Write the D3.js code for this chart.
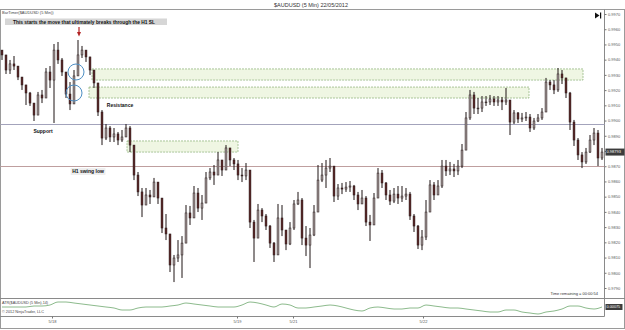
<!DOCTYPE html>
<html>
<head>
<meta charset="utf-8">
<script src="https://cdnjs.cloudflare.com/ajax/libs/d3/7.8.5/d3.min.js"></script>
<style>
    html, body { margin: 0; padding: 0; background: #fff; }
    svg { display: block; font-family: "Liberation Sans", Arial, sans-serif; }
</style>
</head>
<body>
<div id="chart"></div>
<script>
"use strict";

// 5 min bars (one candle per ~4px of the original)
var FirstOpen = 0.99463;

var Closes = [
    0.99431, 0.99332, 0.99372, 0.99358, 0.99286, 0.99234, 0.99181, 0.99115, 0.99036, 0.99168,
    0.99148, 0.99319, 0.99266, 0.99463, 0.99398, 0.99319, 0.99174, 0.99109, 0.99293, 0.99431,
    0.99463, 0.99418, 0.99332, 0.99247, 0.99056, 0.98885, 0.98951, 0.98892, 0.98912, 0.98872,
    0.98892, 0.98951, 0.98839, 0.98642, 0.98531, 0.98445, 0.98511, 0.98498, 0.98596, 0.98491,
    0.98294, 0.98255, 0.98051, 0.98097, 0.98117, 0.98195, 0.98393, 0.98360, 0.98524, 0.98425,
    0.98458, 0.98623, 0.98662, 0.98642, 0.98741, 0.98675, 0.98820, 0.98741, 0.98715, 0.98642,
    0.98636, 0.98675, 0.98333, 0.98228, 0.98412, 0.98373, 0.98307, 0.98195, 0.98117, 0.98360,
    0.98281, 0.98189, 0.98294, 0.98452, 0.98478, 0.98228, 0.98182, 0.98248, 0.98399, 0.98609,
    0.98642, 0.98688, 0.98701, 0.98504, 0.98557, 0.98550, 0.98563, 0.98570, 0.98511, 0.98452,
    0.98491, 0.98333, 0.98314, 0.98491, 0.98655, 0.98590, 0.98511, 0.98471, 0.98517, 0.98491,
    0.98504, 0.98517, 0.98373, 0.98307, 0.98182, 0.98235, 0.98399, 0.98577, 0.98511, 0.98570,
    0.98701, 0.98669, 0.98682, 0.98669, 0.98701, 0.98806, 0.99017, 0.99168, 0.99082, 0.99082,
    0.99122, 0.99122, 0.99142, 0.99122, 0.99135, 0.99122, 0.99135, 0.98990, 0.99050, 0.99010,
    0.99017, 0.99023, 0.98951, 0.98997, 0.99017, 0.99056, 0.99253, 0.99234, 0.99201, 0.99306,
    0.99280, 0.99181, 0.98990, 0.98872, 0.98774, 0.98728, 0.98793, 0.98872, 0.98918, 0.98754,
    0.98793
];

var Highs = [
    0.99463, 0.99385, 0.99398, 0.99424, 0.99332, 0.99280, 0.99214, 0.99188, 0.99109, 0.99188,
    0.99201, 0.99345, 0.99358, 0.99503, 0.99516, 0.99411, 0.99319, 0.99253, 0.99332, 0.99529,
    0.99490, 0.99450, 0.99398, 0.99332, 0.99168, 0.99069, 0.98977, 0.98964, 0.98951, 0.98925,
    0.98938, 0.98977, 0.98964, 0.98806, 0.98662, 0.98557, 0.98557, 0.98544, 0.98623, 0.98577,
    0.98478, 0.98386, 0.98215, 0.98117, 0.98215, 0.98241, 0.98445, 0.98439, 0.98570, 0.98557,
    0.98511, 0.98662, 0.98688, 0.98708, 0.98793, 0.98741, 0.98839, 0.98820, 0.98754, 0.98741,
    0.98688, 0.98721, 0.98662, 0.98347, 0.98452, 0.98425, 0.98386, 0.98314, 0.98202, 0.98452,
    0.98445, 0.98268, 0.98333, 0.98478, 0.98531, 0.98491, 0.98307, 0.98294, 0.98445, 0.98708,
    0.98721, 0.98741, 0.98754, 0.98688, 0.98583, 0.98590, 0.98596, 0.98603, 0.98577, 0.98531,
    0.98544, 0.98504, 0.98380, 0.98524, 0.98688, 0.98675, 0.98596, 0.98544, 0.98557, 0.98570,
    0.98570, 0.98557, 0.98531, 0.98386, 0.98314, 0.98281, 0.98478, 0.98609, 0.98596, 0.98609,
    0.98741, 0.98741, 0.98728, 0.98715, 0.98741, 0.98846, 0.99056, 0.99201, 0.99188, 0.99148,
    0.99161, 0.99161, 0.99168, 0.99161, 0.99161, 0.99155, 0.99214, 0.99135, 0.99069, 0.99056,
    0.99050, 0.99056, 0.99043, 0.99017, 0.99043, 0.99082, 0.99280, 0.99266, 0.99266, 0.99345,
    0.99332, 0.99280, 0.99188, 0.99004, 0.98885, 0.98793, 0.98820, 0.98905, 0.98951, 0.98938,
    0.98820
];

var Lows = [
    0.99398, 0.99306, 0.99306, 0.99332, 0.99266, 0.99201, 0.99102, 0.99096, 0.98997, 0.99082,
    0.99115, 0.99168, 0.99214, 0.98984, 0.99372, 0.99293, 0.99148, 0.99069, 0.99135, 0.99332,
    0.99411, 0.99385, 0.99299, 0.99214, 0.99030, 0.98839, 0.98872, 0.98859, 0.98859, 0.98839,
    0.98859, 0.98905, 0.98793, 0.98609, 0.98504, 0.98366, 0.98465, 0.98452, 0.98511, 0.98452,
    0.98261, 0.98215, 0.98005, 0.97939, 0.98071, 0.97966, 0.98215, 0.98314, 0.98379, 0.98399,
    0.98347, 0.98478, 0.98609, 0.98577, 0.98688, 0.98636, 0.98708, 0.98701, 0.98675, 0.98609,
    0.98596, 0.98609, 0.98294, 0.98071, 0.98241, 0.98333, 0.98281, 0.98163, 0.98071, 0.98149,
    0.98241, 0.98149, 0.98182, 0.98281, 0.98445, 0.98182, 0.98110, 0.98031, 0.98241, 0.98412,
    0.98596, 0.98557, 0.98662, 0.98465, 0.98478, 0.98517, 0.98531, 0.98531, 0.98478, 0.98412,
    0.98452, 0.98307, 0.98209, 0.98333, 0.98491, 0.98557, 0.98478, 0.98445, 0.98458, 0.98452,
    0.98465, 0.98478, 0.98347, 0.98268, 0.98156, 0.98149, 0.98215, 0.98412, 0.98478, 0.98511,
    0.98557, 0.98636, 0.98642, 0.98629, 0.98642, 0.98688, 0.98839, 0.99004, 0.99043, 0.99043,
    0.99056, 0.99096, 0.99102, 0.99096, 0.99096, 0.99069, 0.99102, 0.98905, 0.98977, 0.98984,
    0.98990, 0.98997, 0.98925, 0.98938, 0.98990, 0.99004, 0.99135, 0.99201, 0.99174, 0.99188,
    0.99240, 0.99148, 0.98938, 0.98833, 0.98741, 0.98688, 0.98715, 0.98787, 0.98839, 0.98701,
    0.98741
];

// ATR(14), one reading every AtrStep bars
var AtrStep = 2;
var AtrValues = [
    0.00075, 0.00075, 0.00075, 0.00075, 0.0008, 0.0008, 0.00085, 0.001, 0.001, 0.00095,
    0.0009, 0.00085, 0.0008, 0.00075, 0.0007, 0.0006, 0.0006, 0.0007, 0.00075, 0.00075,
    0.00075, 0.0008, 0.00085, 0.00095, 0.0009, 0.00085, 0.0008, 0.00075, 0.00075, 0.00075,
    0.00085, 0.001, 0.00095, 0.00085, 0.00075, 0.0009, 0.00085, 0.0007, 0.0007, 0.00075,
    0.0008, 0.00085, 0.0008, 0.0007, 0.0006, 0.00055, 0.0007, 0.00075, 0.0007, 0.00065,
    0.00065, 0.0007, 0.0007, 0.00085, 0.0008, 0.00075, 0.0007, 0.0007, 0.00065, 0.0006,
    0.00055, 0.0005, 0.0005, 0.0006, 0.0006, 0.0005, 0.00045, 0.0004, 0.0005, 0.00055,
    0.00065, 0.0008, 0.0008, 0.0007, 0.00065, 0.00075
];

var DateTicks = [12.5, 58.75, 72.75, 105.25];
var DateLabels = ["5/18", "5/19", "5/21", "5/22"];
var PriceDomain = [0.9790, 0.9970];

// drawing objects on the chart
var LevelPrices = [0.98977, 0.98701];          // support, H1 swing low
var ZoneStart = [22.5, 21.75, 31.25];
var ZoneEnd = [145.25, 131.75, 59];
var ZoneTop = [0.99339, 0.99220, 0.98866];
var ZoneBottom = [0.99266, 0.99148, 0.98793];
var CircleIndex = [18.5, 18];
var CirclePrice = [0.99319, 0.99181];

var Width = 625,
    Height = 330,
    AxisX = 604.5,
    MainBottom = 298.5,
    AtrBottom = 316.5;

var svg = d3.select("#chart")
    .append("svg")
    .attr("width", Width)
    .attr("height", Height);

var x = d3.scaleLinear().domain([0, Closes.length - 1]).range([2, 602]);
var y = d3.scaleLinear().domain(PriceDomain).range([288, 14]);
var yAtr = d3.scaleLinear().domain([0.0003, 0.0011]).range([316, 300]);

var bars = Closes.map(function (c, i) {
    var o = i === 0 ? FirstOpen : Closes[i - 1];
    return {
        i: i,
        o: o,
        c: c,
        h: Math.max(Highs[i], o, c),
        l: Math.min(Lows[i], o, c)
    };
});

drawFrame();
drawZones();
drawLevels();
drawCandles();
drawAnnotations();
drawPriceAxis();
drawAtr();
drawTimeAxis();

function drawFrame() {
    svg.append("text")
        .attr("x", 311)
        .attr("y", 7)
        .attr("text-anchor", "middle")
        .style("font-size", "5.5px")
        .style("fill", "#333")
        .text("$AUDUSD (5 Min)  22/05/2012");

    svg.append("rect")
        .attr("x", 0.5)
        .attr("y", 9.5)
        .attr("width", Width - 1)
        .attr("height", 319)
        .style("fill", "none")
        .style("stroke", "#9a9a9a");

    svg.append("line")
        .attr("x1", AxisX).attr("x2", AxisX)
        .attr("y1", 9.5).attr("y2", AtrBottom)
        .style("stroke", "#8a8a8a");

    svg.append("line")
        .attr("x1", 0).attr("x2", Width)
        .attr("y1", MainBottom).attr("y2", MainBottom)
        .style("stroke", "#8a8a8a");

    svg.append("line")
        .attr("x1", 0).attr("x2", AxisX)
        .attr("y1", AtrBottom).attr("y2", AtrBottom)
        .style("stroke", "#8a8a8a");
}

function drawZones() {
    svg.append("g").selectAll("rect")
        .data(ZoneStart)
        .enter()
        .append("rect")
        .attr("x", function (d) { return x(d); })
        .attr("y", function (d, i) { return y(ZoneTop[i]); })
        .attr("width", function (d, i) { return x(ZoneEnd[i]) - x(d); })
        .attr("height", function (d, i) { return y(ZoneBottom[i]) - y(ZoneTop[i]); })
        .style("fill", "#eff6e3")
        .style("stroke", "#86ad72")
        .style("stroke-width", 0.7)
        .style("stroke-dasharray", "2,1");
}

function drawLevels() {
    var colors = ["#a3a3bb", "#bf9f9f"];
    svg.append("g").selectAll("line")
        .data(LevelPrices)
        .enter()
        .append("line")
        .attr("x1", 0.5)
        .attr("x2", AxisX)
        .attr("y1", function (d) { return Math.round(y(d)) + 0.5; })
        .attr("y2", function (d) { return Math.round(y(d)) + 0.5; })
        .style("stroke", function (d, i) { return colors[i]; })
        .style("stroke-width", 1.2);
}

function drawCandles() {
    var g = svg.append("g");
    var bodyW = 1.9;

    g.selectAll("line.wick")
        .data(bars)
        .enter()
        .append("line")
        .attr("class", "wick")
        .attr("x1", function (d) { return x(d.i); })
        .attr("x2", function (d) { return x(d.i); })
        .attr("y1", function (d) { return y(d.h); })
        .attr("y2", function (d) { return y(d.l); })
        .style("stroke", "#1e1414")
        .style("stroke-width", 1);

    g.selectAll("rect.body")
        .data(bars)
        .enter()
        .append("rect")
        .attr("class", "body")
        .attr("x", function (d) { return x(d.i) - bodyW / 2; })
        .attr("y", function (d) { return y(Math.max(d.o, d.c)); })
        .attr("width", bodyW)
        .attr("height", function (d) { return Math.max(0.8, Math.abs(y(d.o) - y(d.c))); })
        .style("fill", function (d) { return d.c >= d.o ? "#a89e9e" : "#5e2828"; })
        .style("stroke", "#261818")
        .style("stroke-width", 0.5);
}

function label(text, cx, cy, bg, bold, size) {
    var t = svg.append("text")
        .attr("x", cx)
        .attr("y", cy)
        .attr("text-anchor", "middle")
        .attr("dy", "0.35em")
        .style("font-size", size + "px")
        .style("font-weight", bold ? "bold" : "normal")
        .style("fill", "#111")
        .text(text);
    var bb = t.node().getBBox();
    svg.insert("rect", function () { return t.node(); })
        .attr("x", bb.x - 1.5)
        .attr("y", bb.y - 0.5)
        .attr("width", bb.width + 3)
        .attr("height", bb.height + 1)
        .style("fill", bg);
}

function drawAnnotations() {
    svg.append("text")
        .attr("x", 2)
        .attr("y", 14)
        .style("font-size", "4px")
        .style("fill", "#444")
        .text("BarTimer($AUDUSD (5 Min))");

    svg.append("rect")
        .attr("x", 5)
        .attr("y", 18.5)
        .attr("width", 162)
        .attr("height", 6.5)
        .style("fill", "#d6d6d6");
    svg.append("text")
        .attr("x", 13)
        .attr("y", 23.6)
        .attr("textLength", 142)
        .attr("lengthAdjust", "spacingAndGlyphs")
        .style("font-size", "5px")
        .style("font-weight", "bold")
        .style("fill", "#111")
        .text("This starts the move that ultimately breaks through the H1  SL");

    // red arrow over the high
    var ax = x(19.25);
    svg.append("line")
        .attr("x1", ax).attr("x2", ax)
        .attr("y1", 27).attr("y2", 33)
        .style("stroke", "#b22222")
        .style("stroke-width", 1.2);
    svg.append("path")
        .attr("d", "M" + (ax - 2) + ",32L" + (ax + 2) + ",32L" + ax + ",36.5Z")
        .style("fill", "#b22222");

    svg.append("g").selectAll("circle")
        .data(CircleIndex)
        .enter()
        .append("circle")
        .attr("cx", function (d) { return x(d); })
        .attr("cy", function (d, i) { return y(CirclePrice[i]); })
        .attr("r", 8)
        .style("fill", "none")
        .style("stroke", "#4f8fc4")
        .style("stroke-width", 1);

    label("Support", x(10.25), y(0.98931), "#fff", true, 5);
    label("Resistance", x(29.5), y(0.99102), "#fff", true, 5);
    label("H1 swing low", x(21.5), y(0.98664), "#eeeeee", true, 5);

    svg.append("text")
        .attr("x", 598)
        .attr("y", 294.5)
        .attr("text-anchor", "end")
        .style("font-size", "4px")
        .style("fill", "#333")
        .text("Time remaining = 00:00:54");

    // play-to-end icon
    svg.append("path")
        .attr("d", "M595,12.5L595,18.5L599.5,15.5Z")
        .style("fill", "#111");
    svg.append("rect")
        .attr("x", 600)
        .attr("y", 12.5)
        .attr("width", 1.2)
        .attr("height", 6)
        .style("fill", "#111");
}

function drawPriceAxis() {
    var axis = d3.axisRight(y)
        .tickValues(d3.range(0, 19).map(function (k) { return PriceDomain[0] + k * 0.001; }))
        .tickFormat(d3.format(".4f"))
        .tickSize(2)
        .tickPadding(1.5);

    var g = svg.append("g")
        .attr("transform", "translate(" + AxisX + ",0)")
        .call(axis);
    g.select(".domain").remove();
    g.selectAll(".tick line").style("stroke", "#777");
    g.selectAll(".tick text")
        .style("font-size", "4px")
        .style("fill", "#555")
        .style("font-family", "'Liberation Sans', Arial, sans-serif");

    var last = bars[bars.length - 1].c;
    var ly = y(last);
    svg.append("rect")
        .attr("x", AxisX + 1)
        .attr("y", ly - 3.5)
        .attr("width", 19)
        .attr("height", 7)
        .style("fill", "#3c3c3c");
    svg.append("text")
        .attr("x", AxisX + 2)
        .attr("y", ly)
        .attr("dy", "0.35em")
        .style("font-size", "4px")
        .style("fill", "#fff")
        .text(d3.format(".5f")(last));
}

function drawAtr() {
    var line = d3.line()
        .x(function (d, i) { return x(i * AtrStep); })
        .y(function (d) { return yAtr(d); })
        .curve(d3.curveMonotoneX);

    svg.append("path")
        .datum(AtrValues)
        .attr("d", line)
        .style("fill", "none")
        .style("stroke", "#6fa86f")
        .style("stroke-width", 0.8);

    svg.append("text")
        .attr("x", 2)
        .attr("y", 303.5)
        .style("font-size", "3.8px")
        .style("fill", "#444")
        .text("ATR($AUDUSD (5 Min),14)");
    svg.append("text")
        .attr("x", 2)
        .attr("y", 313)
        .style("font-size", "3.8px")
        .style("fill", "#444")
        .text("\u00a9 2012 NinjaTrader, LLC");

    var lastAtr = AtrValues[AtrValues.length - 1];
    var ay = yAtr(lastAtr);
    svg.append("rect")
        .attr("x", AxisX + 1)
        .attr("y", ay - 3)
        .attr("width", 17)
        .attr("height", 6)
        .style("fill", "#3c3c3c");
    svg.append("text")
        .attr("x", AxisX + 2)
        .attr("y", ay)
        .attr("dy", "0.35em")
        .style("font-size", "3.8px")
        .style("fill", "#fff")
        .text(d3.format(".5f")(lastAtr));
}

function drawTimeAxis() {
    var axis = d3.axisBottom(x)
        .tickValues(DateTicks)
        .tickFormat(function (d, i) { return DateLabels[i]; })
        .tickSize(2)
        .tickPadding(1.5);

    var g = svg.append("g")
        .attr("transform", "translate(0," + AtrBottom + ")")
        .call(axis);
    g.select(".domain").remove();
    g.selectAll(".tick line").style("stroke", "#777");
    g.selectAll(".tick text")
        .style("font-size", "4px")
        .style("fill", "#555")
        .style("font-family", "'Liberation Sans', Arial, sans-serif");
}
</script>
</body>
</html>
